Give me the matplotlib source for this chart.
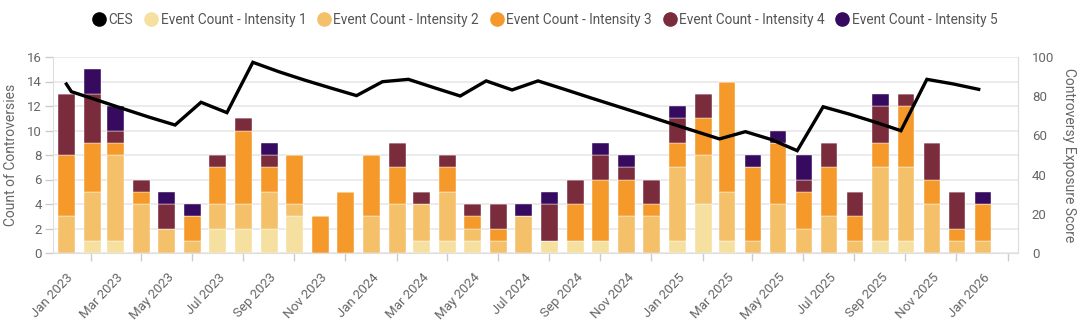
import matplotlib

matplotlib.use("Agg")
import matplotlib.dates as mdates
import matplotlib.pyplot as plt
import pandas as pd
from matplotlib.lines import Line2D

plt.rcParams["font.family"] = ["Roboto", "DejaVu Sans"]

# monthly categories Jan 2023 .. Jan 2026
months = pd.date_range("2023-01-01", periods=37, freq="MS")

intensity_1 = [0, 1, 1, 0, 0, 0, 2, 2, 2, 3, 0, 0, 0, 0, 1, 1, 1, 0, 0, 1, 1, 1, 0, 0,
               1, 4, 1, 0, 0, 0, 0, 0, 1, 1, 0, 0, 0]
intensity_2 = [3, 4, 7, 4, 2, 1, 2, 2, 3, 1, 0, 0, 3, 4, 3, 4, 1, 1, 3, 0, 0, 0, 3, 3,
               6, 4, 4, 1, 4, 2, 3, 1, 6, 6, 4, 1, 1]
intensity_3 = [5, 4, 1, 1, 0, 2, 3, 6, 2, 4, 3, 5, 5, 3, 0, 2, 1, 1, 0, 0, 3, 5, 3, 1,
               2, 3, 9, 6, 5, 3, 4, 2, 2, 5, 2, 1, 3]
intensity_4 = [5, 4, 1, 1, 2, 0, 1, 1, 1, 0, 0, 0, 0, 2, 1, 1, 1, 2, 0, 3, 2, 2, 1, 2,
               2, 2, 0, 0, 0, 1, 2, 2, 3, 1, 3, 3, 0]
intensity_5 = [0, 2, 2, 0, 1, 1, 0, 0, 1, 0, 0, 0, 0, 0, 0, 0, 0, 0, 1, 1, 0, 1, 1, 0,
               1, 0, 0, 1, 1, 2, 0, 0, 1, 0, 0, 0, 1]

# CES (right axis) readings
ces_dates = ["2023-01-01", "2023-01-07", "2023-02-07", "2023-03-10", "2023-04-10",
             "2023-05-11", "2023-06-11", "2023-07-12", "2023-08-12", "2023-09-12",
             "2023-10-13", "2023-11-13", "2023-12-14", "2024-01-14", "2024-02-14",
             "2024-03-16", "2024-04-16", "2024-05-17", "2024-06-17", "2024-07-18",
             "2024-08-18", "2024-09-18", "2024-10-19", "2024-11-19", "2024-12-20",
             "2025-01-20", "2025-02-20", "2025-03-23", "2025-04-23", "2025-05-24",
             "2025-06-24", "2025-07-25", "2025-08-25", "2025-09-25", "2025-10-26",
             "2025-11-26", "2025-12-27"]
ces_values = [86.2, 82.3, 78.0, 73.6, 69.3, 65.3, 76.9, 71.6, 97.3, 92.5, 88.2, 84.2,
              80.3, 87.4, 88.6, 84.3, 80.1, 87.8, 83.2, 87.8, 83.6, 79.3, 75.1, 70.9,
              66.6, 62.4, 58.2, 61.9, 57.9, 52.2, 74.6, 70.9, 66.8, 62.4, 88.6, 86.3,
              83.5]

series = [intensity_1, intensity_2, intensity_3, intensity_4, intensity_5]
series_names = [f"Event Count - Intensity {i}" for i in range(1, 6)]
colors = ["#f6e0a0", "#f4c06a", "#f5992a", "#7a2c3c", "#350a5f"]

grey = "#666666"
light = "#dedede"

fig = plt.figure(figsize=(10.9, 3.24), dpi=100)
ax = fig.add_axes([53 / 1090, 1 - 253 / 324, 965 / 1090, 196 / 324])
ax2 = ax.twinx()

x = mdates.date2num(months)
bottom = [0] * len(months)
for vals, col in zip(series, colors):
    ax.bar(x, vals, width=20, bottom=bottom, color=col, edgecolor="white",
           linewidth=0.3, zorder=2)
    bottom = [b + v for b, v in zip(bottom, vals)]

ax2.plot(mdates.date2num(pd.to_datetime(ces_dates)), ces_values, color="black",
         lw=2.4, solid_joinstyle="miter", zorder=5)

ax.set_xlim(mdates.date2num(pd.Timestamp("2022-12-16")),
            mdates.date2num(pd.Timestamp("2026-02-12")))
ax.set_ylim(0, 16)
ax.set_yticks(range(0, 17, 2))
ax2.set_ylim(0, 100)
ax2.set_yticks(range(0, 101, 20))

ax.yaxis.grid(True, color="#e9e9e9", lw=1.3)
ax.set_axisbelow(True)

# labels on odd months, tick marks at odd month ends
label_months = months[::2]
ax.set_xticks(mdates.date2num(label_months))
ax.set_xticklabels([d.strftime("%b %Y") for d in label_months])
tick_pos = pd.date_range("2023-02-01", periods=19, freq="2MS") - pd.Timedelta(days=1)
ax.set_xticks(mdates.date2num(tick_pos), minor=True)
ax.tick_params(axis="x", which="major", length=0, pad=13, labelsize=9.5,
               labelcolor=grey)
ax.tick_params(axis="x", which="minor", length=6, width=1, color="#cccccc")
for lab in ax.get_xticklabels():
    lab.set_rotation(47)
    lab.set_ha("right")
    lab.set_rotation_mode("anchor")

ax.tick_params(axis="y", length=6, width=1, color="#cccccc", pad=2,
               labelsize=9.5, labelcolor=grey)
ax2.tick_params(axis="y", length=0, pad=10, labelsize=9.5, labelcolor=grey)

for side in ["top"]:
    ax.spines[side].set_visible(False)
for side in ["left", "bottom", "right"]:
    ax.spines[side].set_color(light)
for side in ["top", "left", "bottom"]:
    ax2.spines[side].set_visible(False)
ax2.spines["right"].set_color(light)

ax.set_ylabel("Count of Controversies", fontsize=10, color=grey)
ax.yaxis.set_label_coords(-0.036, 0.5)
ax2.set_ylabel("Controversy Exposure Score", fontsize=10, color=grey,
               rotation=270, va="bottom", ha="center", rotation_mode="anchor")
ax2.yaxis.set_label_coords(1.046, 0.5)

handles = [Line2D([], [], marker="o", ls="", markersize=9.5, color="black")]
handles += [Line2D([], [], marker="o", ls="", markersize=9.5, color=c) for c in colors]
fig.legend(handles, ["CES"] + series_names, loc="center",
           bbox_to_anchor=(0.5, 1 - 20 / 324), ncol=6, frameon=False,
           handletextpad=0.2, columnspacing=0.8, handlelength=1.0,
           fontsize=9.8, labelcolor="#555555")

fig.savefig("out.png", dpi=100)
